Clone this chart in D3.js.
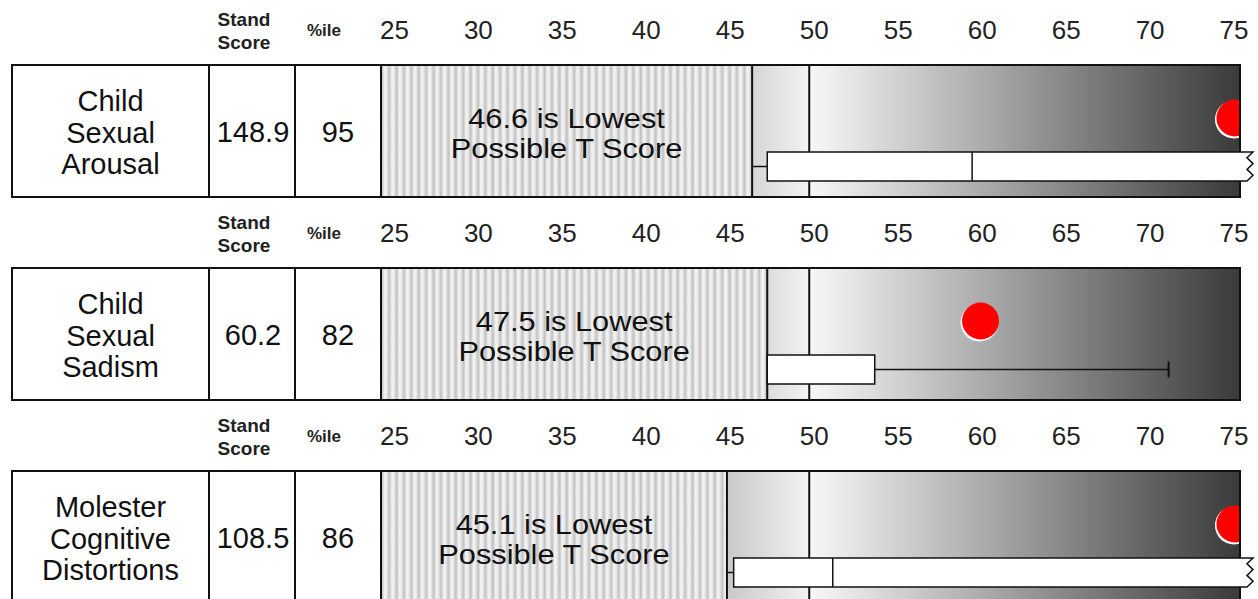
<!DOCTYPE html>
<html>
<head>
<meta charset="utf-8">
<script src="https://cdn.jsdelivr.net/npm/d3@7"></script>
<style>
  body { margin: 0; background: #fff; }
  text { font-family: "Liberation Sans", Arial, Helvetica, sans-serif; fill: #111; }
</style>
</head>
<body>
<script>
// scale names, split in lines like in the report
var scaleNames = [
    ["Child", "Sexual", "Arousal"],
    ["Child", "Sexual", "Sadism"],
    ["Molester", "Cognitive", "Distortions"]
];
var standScores = [148.9, 60.2, 108.5];
var percentiles = [95, 82, 86];
var lowestT = [46.6, 47.5, 45.1];

// box plot values (T score), null = not drawn / off scale
var whiskerLow = [46.6, null, 45.1];
var q1 = [47.5, 47.5, 45.5];
var median = [59.7, null, 51.4];
var q3 = [null, 53.9, null];       // null -> box runs off the scale
var whiskerHigh = [null, 71.4, null];

var tickValues = [25, 30, 35, 40, 45, 50, 55, 60, 65, 70, 75];

var width = 1258,
    height = 599;

var svg = d3.select("body").append("svg")
    .attr("width", width)
    .attr("height", height);

// layout
var left = 12, col1 = 209, col2 = 295, plotLeft = 381, plotRight = 1240;
var rowH = 132;

var x = d3.scaleLinear()
    .domain([24.5, 75.65])
    .range([plotLeft, plotRight]);

var rowTop = d3.scaleLinear()
    .domain([0, 1])
    .range([65, 268]);

var defs = svg.append("defs");

// stripes for the "impossible" area
var pat = defs.append("pattern")
    .attr("id", "stripes")
    .attr("patternUnits", "userSpaceOnUse")
    .attr("width", 7.4)
    .attr("height", 10);
var sg = defs.append("linearGradient").attr("id", "stripeGrad");
[["0%", "#f7f7f7"], ["30%", "#e6e6e6"], ["60%", "#bebebe"], ["82%", "#dedede"], ["100%", "#f7f7f7"]]
    .forEach(function (s) {
        sg.append("stop").attr("offset", s[0]).attr("stop-color", s[1]);
    });
pat.append("rect").attr("width", 7.4).attr("height", 10).attr("fill", "url(#stripeGrad)");

// grey gradient left of 50
var gl = defs.append("linearGradient")
    .attr("id", "gradLeft")
    .attr("gradientUnits", "userSpaceOnUse")
    .attr("x1", x(45)).attr("x2", x(50)).attr("y1", 0).attr("y2", 0);
gl.append("stop").attr("offset", "0%").attr("stop-color", "#c8c8c8");
gl.append("stop").attr("offset", "100%").attr("stop-color", "#f2f2f2");

// dark gradient right of 50
var gr = defs.append("linearGradient")
    .attr("id", "gradRight")
    .attr("gradientUnits", "userSpaceOnUse")
    .attr("x1", x(50)).attr("x2", plotRight).attr("y1", 0).attr("y2", 0);
gr.append("stop").attr("offset", "0%").attr("stop-color", "#f8f8f8");
gr.append("stop").attr("offset", "100%").attr("stop-color", "#3a3a3a");

scaleNames.forEach(function (name, i) {
    var top = rowTop(i);
    var g = svg.append("g").attr("transform", "translate(0," + top + ")");

    // header
    g.append("text").attr("x", 244).attr("y", -39).attr("text-anchor", "middle")
        .style("font-size", "19px").style("font-weight", "bold").style("fill", "#222").text("Stand");
    g.append("text").attr("x", 244).attr("y", -16).attr("text-anchor", "middle")
        .style("font-size", "19px").style("font-weight", "bold").style("fill", "#222").text("Score");
    g.append("text").attr("x", 324).attr("y", -29).attr("text-anchor", "middle")
        .style("font-size", "17px").style("font-weight", "bold").style("fill", "#222").text("%ile");

    g.selectAll(".tick-label")
        .data(tickValues)
        .enter().append("text")
        .attr("class", "tick-label")
        .attr("x", function (d) { return x(d) + 5; })
        .attr("y", -26)
        .attr("text-anchor", "middle")
        .style("font-size", "26px")
        .style("fill", "#222")
        .text(function (d) { return d; });

    // backgrounds
    g.append("rect")
        .attr("x", plotLeft).attr("y", 0)
        .attr("width", x(lowestT[i]) - plotLeft).attr("height", rowH)
        .attr("fill", "url(#stripes)");
    g.append("rect")
        .attr("x", x(lowestT[i])).attr("y", 0)
        .attr("width", x(50) - x(lowestT[i])).attr("height", rowH)
        .attr("fill", "url(#gradLeft)");
    g.append("rect")
        .attr("x", x(50)).attr("y", 0)
        .attr("width", plotRight - x(50)).attr("height", rowH)
        .attr("fill", "url(#gradRight)");

    // lines at lowest T and at 50
    [lowestT[i], 50].forEach(function (v) {
        g.append("line")
            .attr("x1", x(v)).attr("x2", x(v))
            .attr("y1", 0).attr("y2", rowH)
            .attr("stroke", "#111").attr("stroke-width", 2);
    });

    // outer frame and column separators
    g.append("rect")
        .attr("x", left).attr("y", 0)
        .attr("width", plotRight - left).attr("height", rowH)
        .attr("fill", "none").attr("stroke", "#111").attr("stroke-width", 2);
    [col1, col2, plotLeft].forEach(function (cx) {
        g.append("line")
            .attr("x1", cx).attr("x2", cx).attr("y1", 0).attr("y2", rowH)
            .attr("stroke", "#111").attr("stroke-width", 2);
    });

    // texts in the table
    name.forEach(function (line, j) {
        g.append("text")
            .attr("x", (left + col1) / 2)
            .attr("y", 46 + j * 31.5)
            .attr("text-anchor", "middle")
            .style("font-size", "29px")
            .text(line);
    });
    g.append("text").attr("x", (col1 + col2) / 2 + 1).attr("y", 77)
        .attr("text-anchor", "middle").style("font-size", "29px").text(standScores[i]);
    g.append("text").attr("x", (col2 + plotLeft) / 2).attr("y", 77)
        .attr("text-anchor", "middle").style("font-size", "29px").text(percentiles[i]);

    var mid = (plotLeft + x(lowestT[i])) / 2;
    g.append("text")
        .attr("transform", "translate(" + mid + ",62.5) scale(1.14,1)")
        .attr("text-anchor", "middle").style("font-size", "27px")
        .text(lowestT[i] + " is Lowest");
    g.append("text")
        .attr("transform", "translate(" + mid + ",93) scale(1.14,1)")
        .attr("text-anchor", "middle").style("font-size", "27px")
        .text("Possible T Score");

    // red dot, clipped to the plot area
    var clipId = "clip" + i;
    defs.append("clipPath").attr("id", clipId)
        .append("rect")
        .attr("x", plotLeft).attr("y", top)
        .attr("width", plotRight - plotLeft - 1).attr("height", rowH);
    var dotX = x(Math.min(standScores[i], 75.35));
    var dg = g.append("g").attr("clip-path", "url(#" + clipId + ")")
        .attr("transform", "translate(0," + (-top) + ")")
        .append("g").attr("transform", "translate(0," + top + ")");
    dg.append("circle").attr("cx", dotX - 1).attr("cy", 54.5).attr("r", 19)
        .attr("fill", "#fff");
    dg.append("circle").attr("cx", dotX).attr("cy", 53).attr("r", 18.5)
        .attr("fill", "#ff0000");

    // box plot
    var bTop = 87, bBot = 116, bMid = (bTop + bBot) / 2;
    if (whiskerLow[i] !== null) {
        g.append("line")
            .attr("x1", x(whiskerLow[i])).attr("x2", x(q1[i]))
            .attr("y1", bMid).attr("y2", bMid)
            .attr("stroke", "#111").attr("stroke-width", 1.5);
    }
    if (whiskerHigh[i] !== null) {
        g.append("line")
            .attr("x1", x(q3[i])).attr("x2", x(whiskerHigh[i]))
            .attr("y1", bMid).attr("y2", bMid)
            .attr("stroke", "#111").attr("stroke-width", 1.5);
        g.append("line")
            .attr("x1", x(whiskerHigh[i])).attr("x2", x(whiskerHigh[i]))
            .attr("y1", bMid - 8).attr("y2", bMid + 8)
            .attr("stroke", "#111").attr("stroke-width", 2);
    }
    var bx = x(q1[i]);
    var boxPath;
    if (q3[i] !== null) {
        boxPath = "M" + bx + "," + bTop + "H" + x(q3[i]) + "V" + bBot + "H" + bx + "Z";
    } else {
        // off the scale: zigzag end
        var xr = plotRight + 13, h = bBot - bTop;
        boxPath = "M" + bx + "," + bTop + "H" + xr +
            "L" + (xr - 6) + "," + (bTop + h * 0.2) +
            "L" + xr + "," + (bTop + h * 0.4) +
            "L" + (xr - 6) + "," + (bTop + h * 0.6) +
            "L" + xr + "," + (bTop + h * 0.8) +
            "L" + (xr - 6) + "," + bBot +
            "H" + bx + "Z";
    }
    g.append("path").attr("d", boxPath)
        .attr("fill", "#fff").attr("stroke", "#111").attr("stroke-width", 1.5);
    if (median[i] !== null) {
        g.append("line")
            .attr("x1", x(median[i])).attr("x2", x(median[i]))
            .attr("y1", bTop).attr("y2", bBot)
            .attr("stroke", "#111").attr("stroke-width", 1.5);
    }
});
</script>
</body>
</html>
